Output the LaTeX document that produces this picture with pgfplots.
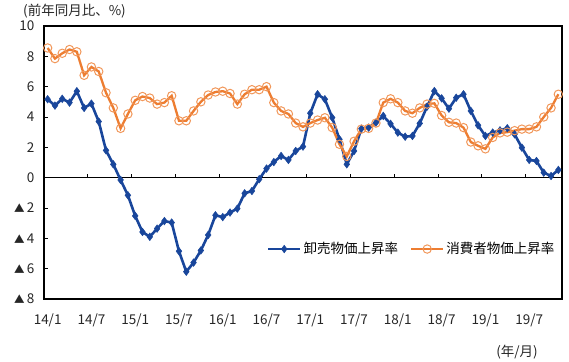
\documentclass[border=0pt]{standalone}
\usepackage{fontspec}
\setmainfont{Noto Sans CJK JP}
\usepackage{pgfplots}
\pgfplotsset{compat=1.18}
\definecolor{wblue}{RGB}{25,70,155}
\definecolor{corange}{RGB}{237,125,49}
\newcommand{\fs}{\fontsize{13.5}{16}\selectfont}
\newcommand{\tri}{{\fontsize{10.5}{12}\selectfont ▲}\,}
\begin{document}
\begin{tikzpicture}
\useasboundingbox (-44pt,-62pt) rectangle (525pt,299pt);
\begin{axis}[
  scale only axis, width=518pt, height=273pt,
  xmin=-0.5, xmax=70.5, ymin=-8, ymax=10,
  xtick={0,6,12,18,24,30,36,42,48,54,60,66},
  xticklabels={14/1,14/7,15/1,15/7,16/1,16/7,17/1,17/7,18/1,18/7,19/1,19/7},
  x tick style={draw=none},
  ytick={-8,-6,-4,-2,0,2,4,6,8,10},
  yticklabels={\tri 8,\tri 6,\tri 4,\tri 2,0,2,4,6,8,10},
  ytick pos=left, tick align=inside, major tick length=4pt,
  y tick style={black, line width=0.8pt},
  axis line style={black, line width=1.3pt},
  tick label style={font=\fs, text=black!85},
  xticklabel style={yshift=-11pt},
  yticklabel style={xshift=-6pt},
  legend style={draw=none, fill=none, at={(0.43,0.183)}, anchor=west,
    legend columns=2, font=\fs, inner sep=0pt,
    /tikz/every even column/.append style={column sep=10pt}},
  legend image code/.code={\draw[mark repeat=2,mark phase=2] plot coordinates {(0pt,0pt)(16pt,0pt)(32pt,0pt)};},
  clip=false,
]
\draw[black, line width=1pt] (axis cs:-0.5,0) -- (axis cs:70.5,0);
\pgfplotsinvokeforeach{5.5,11.5,17.5,23.5,29.5,35.5,41.5,47.5,53.5,59.5,65.5}{
  \draw[black, line width=0.8pt] (axis cs:#1,0) -- ++(0pt,4pt);
}
\addplot[wblue, line width=2.6pt, mark=diamond*, mark size=3.8pt, mark options={fill=wblue, line width=0.5pt}] coordinates {
(0,5.17)(1,4.75)(2,5.2)(3,4.95)(4,5.7)(5,4.6)(6,4.88)(7,3.7)(8,1.8)(9,0.88)(10,-0.15)(11,-1.16)
(12,-2.52)(13,-3.58)(14,-3.9)(15,-3.36)(16,-2.86)(17,-2.96)(18,-4.85)(19,-6.2)(20,-5.6)(21,-4.8)(22,-3.78)(23,-2.48)
(24,-2.6)(25,-2.3)(26,-2.04)(27,-1.03)(28,-0.88)(29,-0.1)(30,0.6)(31,1.03)(32,1.43)(33,1.17)(34,1.76)(35,2.05)
(36,4.25)(37,5.5)(38,5.17)(39,3.96)(40,2.53)(41,0.88)(42,1.76)(43,3.23)(44,3.3)(45,3.63)(46,4.07)(47,3.55)
(48,2.97)(49,2.7)(50,2.75)(51,3.58)(52,4.68)(53,5.71)(54,5.23)(55,4.55)(56,5.27)(57,5.5)(58,4.4)(59,3.45)
(60,2.75)(61,2.97)(62,3.12)(63,3.26)(64,2.86)(65,1.98)(66,1.17)(67,1.1)(68,0.33)(69,0.11)(70,0.51)
};
\addlegendentry{卸売物価上昇率}
\addplot[corange, line width=2.3pt, mark=o, mark size=4.2pt, mark options={draw=corange!80!white, fill=white, fill opacity=0.3, line width=1pt}] coordinates {
(0,8.55)(1,7.85)(2,8.2)(3,8.45)(4,8.3)(5,6.75)(6,7.3)(7,7.0)(8,5.6)(9,4.6)(10,3.25)(11,4.2)
(12,5.1)(13,5.35)(14,5.25)(15,4.85)(16,4.95)(17,5.4)(18,3.75)(19,3.75)(20,4.4)(21,5.0)(22,5.45)(23,5.65)
(24,5.7)(25,5.55)(26,4.85)(27,5.5)(28,5.8)(29,5.8)(30,6.0)(31,4.95)(32,4.4)(33,4.2)(34,3.6)(35,3.35)
(36,3.6)(37,3.8)(38,3.95)(39,3.3)(40,2.2)(41,1.4)(42,2.4)(43,3.2)(44,3.25)(45,3.6)(46,4.95)(47,5.2)
(48,4.95)(49,4.4)(50,4.25)(51,4.6)(52,4.85)(53,4.9)(54,4.1)(55,3.65)(56,3.6)(57,3.3)(58,2.35)(59,2.1)
(60,1.9)(61,2.65)(62,2.95)(63,3.0)(64,3.1)(65,3.2)(66,3.2)(67,3.35)(68,4.0)(69,4.6)(70,5.5)
};
\addlegendentry{消費者物価上昇率}
\end{axis}
\node[anchor=west, font=\fs, text=black!85, inner sep=0pt] at (-21pt,288pt) {(前年同月比、\%)};
\node[anchor=center, font=\fs, text=black!85, inner sep=0pt] at (473pt,-53pt) {(年/月)};
\end{tikzpicture}
\end{document}
